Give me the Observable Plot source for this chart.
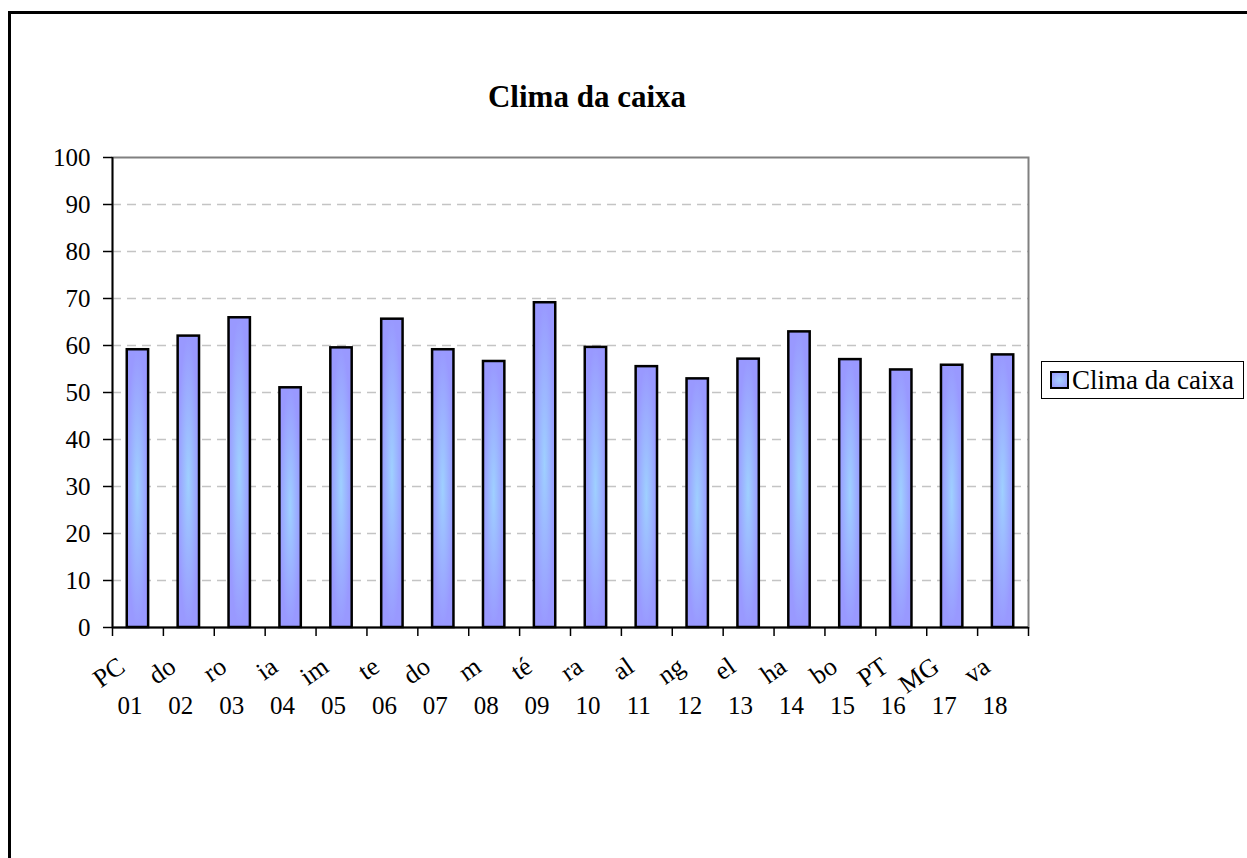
<!DOCTYPE html>
<html>
<head>
<meta charset="utf-8">
<script src="https://cdn.jsdelivr.net/npm/d3@7"></script>
<script src="https://cdn.jsdelivr.net/npm/@observablehq/plot@0.6"></script>
<style>
  html, body { margin: 0; padding: 0; background: #fff; overflow: hidden; width: 1247px; height: 858px; }
  #frame { position: absolute; left: 8px; top: 11px; width: 1300px; height: 900px; border: 3px solid #000; box-sizing: border-box; }
  #chart { position: absolute; left: 0; top: 0; }
  #title { position: absolute; left: 387px; width: 400px; top: 81px; text-align: center; font: bold 31px "Liberation Serif", "Times New Roman", serif; line-height: 31px; color: #000; }
  #legend { position: absolute; left: 1041px; top: 361px; width: 203px; height: 38px; border: 1.5px solid #000; box-sizing: border-box; background: #fff; font: 27px "Liberation Serif", "Times New Roman", serif; color: #000; }
  #legend .sw { position: absolute; left: 8px; top: 9px; width: 19px; height: 18px; box-sizing: border-box; border: 2.5px solid #000; background: radial-gradient(ellipse at center, #a6d0ff 0%, #9999ff 100%); }
  #legend .lb { position: absolute; left: 30px; top: 2px; line-height: 32px; white-space: nowrap; }
</style>
</head>
<body>
<div id="frame"></div>
<div id="chart"></div>
<div id="title">Clima da caixa</div>
<div id="legend"><div class="sw"></div><div class="lb">Clima da caixa</div></div>
<script>
const categories = ["01","02","03","04","05","06","07","08","09","10","11","12","13","14","15","16","17","18"];
const fragments = ["PC","do","ro","ia","im","te","do","m","té","ra","al","ng","el","ha","bo","PT","MG","va"];
const values = [59.1, 62.0, 65.9, 51.0, 59.5, 65.6, 59.1, 56.6, 69.1, 59.6, 55.5, 52.9, 57.1, 62.9, 57.0, 54.8, 55.8, 58.0];
const yTicks = [0, 10, 20, 30, 40, 50, 60, 70, 80, 90, 100];
const seriesName = "Clima da caixa";

const data = categories.map((c, i) => ({code: c, frag: fragments[i], value: values[i]}));

const W = 1247, H = 858;
const mL = 112, mR = 219, mT = 157, mB = 231;
const step = (W - mL - mR) / categories.length;
const serif = "'Liberation Serif', 'Times New Roman', serif";

const chart = Plot.plot({
  width: W,
  height: H,
  marginLeft: mL,
  marginRight: mR,
  marginTop: mT,
  marginBottom: mB,
  style: {fontFamily: serif, fontSize: "25px", color: "#000", background: "transparent", overflow: "visible"},
  x: {type: "band", domain: categories, paddingInner: 0.58, paddingOuter: 0.29, align: 0.5, round: false, label: null},
  y: {domain: [0, 100], label: null},
  marks: [
    Plot.ruleY(yTicks.filter(t => t > 0 && t < 100), {stroke: "#c4c4c4", strokeWidth: 1.3, strokeDasharray: "9,6"}),
    Plot.frame({stroke: "#808080", strokeWidth: 2}),
    Plot.barY(data, {x: "code", y: "value", fill: "url(#barGrad)", stroke: "#000", strokeWidth: 2.5}),
    Plot.ruleX([categories[0]], {y1: 0, y2: 100, dx: -step / 2, stroke: "#000", strokeWidth: 1.8}),
    Plot.ruleY([0], {stroke: "#000", strokeWidth: 1.8}),
    Plot.axisY({ticks: yTicks, tickSize: 9, tickPadding: 13, strokeWidth: 1.5, fontSize: 25, fontFamily: serif, label: null}),
    Plot.axisX({tickSize: 9, strokeWidth: 1.5, tickFormat: () => "", dx: -step / 2, label: null}),
    Plot.axisX({ticks: [categories[categories.length - 1]], tickSize: 9, strokeWidth: 1.5, tickFormat: () => "", dx: step / 2, label: null}),
    Plot.axisX({tickSize: 0, tickPadding: 69, fontSize: 25, fontFamily: serif, dx: -8, label: null}),
    Plot.text(data, {x: "code", y: () => 0, text: "frag", rotate: -35, textAnchor: "end", dx: -16, dy: 36, fontSize: 26, fontFamily: serif, fill: "#000", ariaLabel: "fragments"})
  ]
});

const svg = d3.select(chart);
const defs = svg.insert("defs", ":first-child");
const g = defs.append("radialGradient").attr("id", "barGrad")
  .attr("cx", "50%").attr("cy", "50%").attr("r", "50%");
g.append("stop").attr("offset", "0%").attr("stop-color", "#9fd0ff");
g.append("stop").attr("offset", "100%").attr("stop-color", "#9999ff");
defs.append("clipPath").attr("id", "fragClip").attr("clipPathUnits", "userSpaceOnUse").append("rect")
  .attr("x", 0).attr("y", 640).attr("width", W).attr("height", 42);
// wrap the fragment labels in an untransformed group so the clip is in page coordinates
svg.selectAll('g[aria-label="fragments"]').each(function() {
  const wrap = document.createElementNS("http://www.w3.org/2000/svg", "g");
  wrap.setAttribute("clip-path", "url(#fragClip)");
  this.parentNode.insertBefore(wrap, this);
  wrap.appendChild(this);
});

document.getElementById("chart").appendChild(chart);
</script>
</body>
</html>
